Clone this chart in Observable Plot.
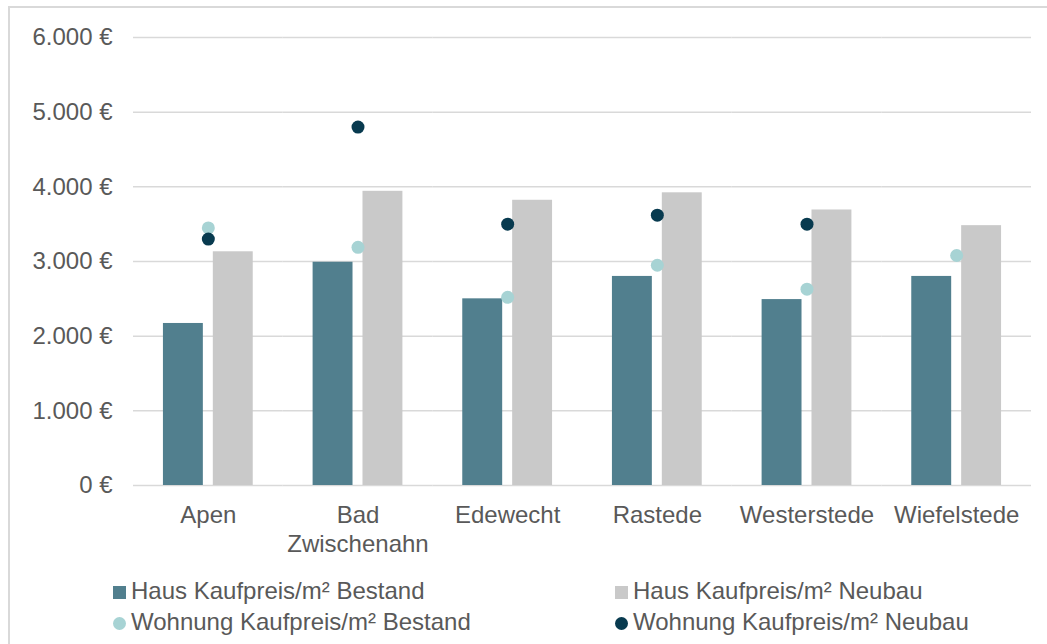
<!DOCTYPE html>
<html>
<head>
<meta charset="utf-8">
<script src="https://cdn.jsdelivr.net/npm/d3@7"></script>
<script src="https://cdn.jsdelivr.net/npm/@observablehq/plot@0.6"></script>
<style>
  html, body { margin: 0; padding: 0; background: #fff; overflow: hidden; }
  body { width: 1047px; height: 644px; position: relative; font-family: "Liberation Sans", Arial, sans-serif; }
  #frame { position: absolute; left: 8px; top: 6px; width: 1100px; height: 700px; border: 2px solid #d9d9d9; box-sizing: border-box; }
  #chart { position: absolute; left: 0; top: 0; }
  .leg { position: absolute; font-size: 24px; color: #595959; line-height: 24px; white-space: nowrap; }
  .sw { position: absolute; width: 13px; height: 13px; }
</style>
</head>
<body>
<div id="frame"></div>
<div id="chart"></div>
<div id="legend"></div>
<script>
const categories = ["Apen", "Bad Zwischenahn", "Edewecht", "Rastede", "Westerstede", "Wiefelstede"];
const hausBestand = [2170, 2990, 2500, 2800, 2490, 2800];
const hausNeubau = [3130, 3940, 3820, 3920, 3690, 3480];
const wohnungBestand = [3450, 3190, 2520, 2950, 2630, 3080];
const wohnungNeubau = [3300, 4800, 3500, 3620, 3500, null];
const yTicks = [0, 1000, 2000, 3000, 4000, 5000, 6000];
const seriesNames = ["Haus Kaufpreis/m² Bestand", "Haus Kaufpreis/m² Neubau", "Wohnung Kaufpreis/m² Bestand", "Wohnung Kaufpreis/m² Neubau"];

const cTeal = "#517f8e", cGrey = "#c9c9c9", cLight = "#a7d3d4", cDark = "#083a4f";

const bars = [];
categories.forEach((c, i) => {
  bars.push({cat: c, series: "Bestand", value: hausBestand[i]});
  bars.push({cat: c, series: "Neubau", value: hausNeubau[i]});
});
const dotsB = categories.map((c, i) => ({cat: c, value: wohnungBestand[i]})).filter(d => d.value != null);
const dotsN = categories.map((c, i) => ({cat: c, value: wohnungNeubau[i]})).filter(d => d.value != null);

const fmt = d => d3.format(",")(d).replace(/,/g, ".") + " €";

const plot = Plot.plot({
  width: 1047,
  height: 560,
  marginLeft: 133,
  marginRight: 16,
  marginTop: 37,
  marginBottom: 75,
  style: {fontFamily: "Liberation Sans, Arial, sans-serif", fontSize: "24px", color: "#595959", background: "transparent"},
  fx: {domain: categories, padding: 0, round: false, label: null},
  x: {domain: ["Bestand", "Neubau"], axis: null, paddingInner: 0.2, paddingOuter: 0.6, round: false},
  y: {domain: [0, 6000], label: null},
  color: {domain: ["Bestand", "Neubau"], range: [cTeal, cGrey]},
  marks: [
    Plot.ruleY(yTicks, {stroke: "#d9d9d9", strokeWidth: 1.5}),
    Plot.barY(bars, {fx: "cat", x: "series", y: "value", fill: "series"}),
    Plot.dot(dotsB, {fx: "cat", y: "value", r: 6.5, fill: cLight, stroke: "none"}),
    Plot.dot(dotsN, {fx: "cat", y: "value", r: 6.5, fill: cDark, stroke: "none"}),
    Plot.axisY({ticks: yTicks, tickFormat: fmt, tickSize: 0, tickPadding: 21, label: null, fontSize: 24}),
    Plot.axisFx({anchor: "bottom", tickSize: 0, tickPadding: 18, label: null, fontSize: 24, lineHeight: 1.17,
      tickFormat: d => d.replace(" ", "\n")})
  ]
});
document.getElementById("chart").appendChild(plot);

// legend
const legend = document.getElementById("legend");
const items = [
  {name: seriesNames[0], color: cTeal, shape: "square", x: 113, y: 592},
  {name: seriesNames[1], color: cGrey, shape: "square", x: 615, y: 592},
  {name: seriesNames[2], color: cLight, shape: "circle", x: 113, y: 623},
  {name: seriesNames[3], color: cDark, shape: "circle", x: 615, y: 623}
];
items.forEach(it => {
  const sw = document.createElement("div");
  sw.className = "sw";
  sw.style.left = it.x + "px";
  sw.style.top = (it.y - 6.5) + "px";
  sw.style.background = it.color;
  if (it.shape === "circle") sw.style.borderRadius = "50%";
  legend.appendChild(sw);
  const t = document.createElement("div");
  t.className = "leg";
  t.style.left = (it.x + 18) + "px";
  t.style.top = (it.y - 13) + "px";
  t.textContent = it.name;
  legend.appendChild(t);
});
</script>
</body>
</html>
